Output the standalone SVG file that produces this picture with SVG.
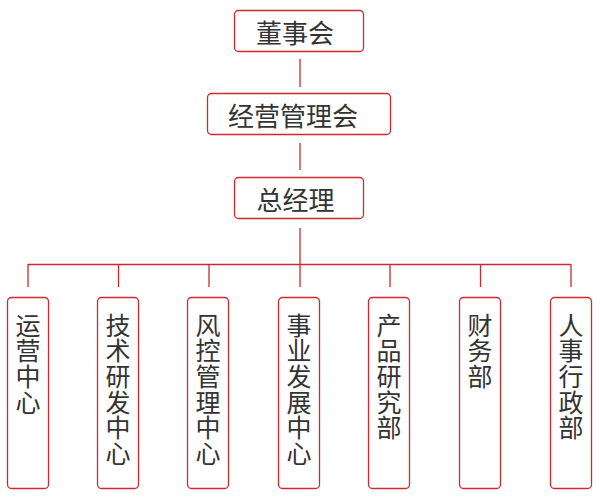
<svg xmlns="http://www.w3.org/2000/svg" width="600" height="500" viewBox="0 0 600 500">
<style>
.box{fill:#fff;stroke:#d0282e;stroke-width:1.3}
.t{font-family:"Noto Sans CJK SC","Noto Sans",sans-serif;font-size:26px;fill:#333}
.v{text-anchor:middle;font-size:25px}
.ln{stroke:#d0282e;stroke-width:1.3;fill:none}
</style>
<rect width="600" height="500" fill="#fff"/>
<g id="connectors">
<path class="ln" d="M300 59V87M300 143V170M300 228V287M28 264.5H571M28 264V287M118.5 264V287M209 264V287M390 264V287M480.5 264V287M571 264V287"/>
</g>
<g id="n1"><rect class="box" x="234.5" y="10.5" width="129" height="41" rx="4"/><text class="t" x="256" y="43">董事会</text></g>
<g id="n2"><rect class="box" x="207.5" y="93.5" width="183" height="41" rx="4"/><text class="t" x="228" y="126">经营管理会</text></g>
<g id="n3"><rect class="box" x="234.5" y="177.5" width="129" height="41" rx="4"/><text class="t" x="256.5" y="210">总经理</text></g>
<g id="c1"><rect class="box" x="7.5" y="297.5" width="41" height="191" rx="4"/><text class="t v"><tspan x="28" y="334.5">运</tspan><tspan x="28" dy="25.7">营</tspan><tspan x="28" dy="25.7">中</tspan><tspan x="28" dy="25.7">心</tspan></text></g>
<g id="c2"><rect class="box" x="97.5" y="297.5" width="41" height="191" rx="4"/><text class="t v"><tspan x="118" y="334.5">技</tspan><tspan x="118" dy="25.7">术</tspan><tspan x="118" dy="25.7">研</tspan><tspan x="118" dy="25.7">发</tspan><tspan x="118" dy="25.7">中</tspan><tspan x="118" dy="25.7">心</tspan></text></g>
<g id="c3"><rect class="box" x="187.5" y="297.5" width="41" height="191" rx="4"/><text class="t v"><tspan x="208" y="334.5">风</tspan><tspan x="208" dy="25.7">控</tspan><tspan x="208" dy="25.7">管</tspan><tspan x="208" dy="25.7">理</tspan><tspan x="208" dy="25.7">中</tspan><tspan x="208" dy="25.7">心</tspan></text></g>
<g id="c4"><rect class="box" x="278.5" y="297.5" width="41" height="191" rx="4"/><text class="t v"><tspan x="299" y="334.5">事</tspan><tspan x="299" dy="25.7">业</tspan><tspan x="299" dy="25.7">发</tspan><tspan x="299" dy="25.7">展</tspan><tspan x="299" dy="25.7">中</tspan><tspan x="299" dy="25.7">心</tspan></text></g>
<g id="c5"><rect class="box" x="368.5" y="297.5" width="41" height="191" rx="4"/><text class="t v"><tspan x="389" y="334.5">产</tspan><tspan x="389" dy="25.7">品</tspan><tspan x="389" dy="25.7">研</tspan><tspan x="389" dy="25.7">究</tspan><tspan x="389" dy="25.7">部</tspan></text></g>
<g id="c6"><rect class="box" x="459.5" y="297.5" width="41" height="191" rx="4"/><text class="t v"><tspan x="480" y="334.5">财</tspan><tspan x="480" dy="25.7">务</tspan><tspan x="480" dy="25.7">部</tspan></text></g>
<g id="c7"><rect class="box" x="550.5" y="297.5" width="41" height="191" rx="4"/><text class="t v"><tspan x="571" y="334.5">人</tspan><tspan x="571" dy="25.7">事</tspan><tspan x="571" dy="25.7">行</tspan><tspan x="571" dy="25.7">政</tspan><tspan x="571" dy="25.7">部</tspan></text></g>
</svg>
